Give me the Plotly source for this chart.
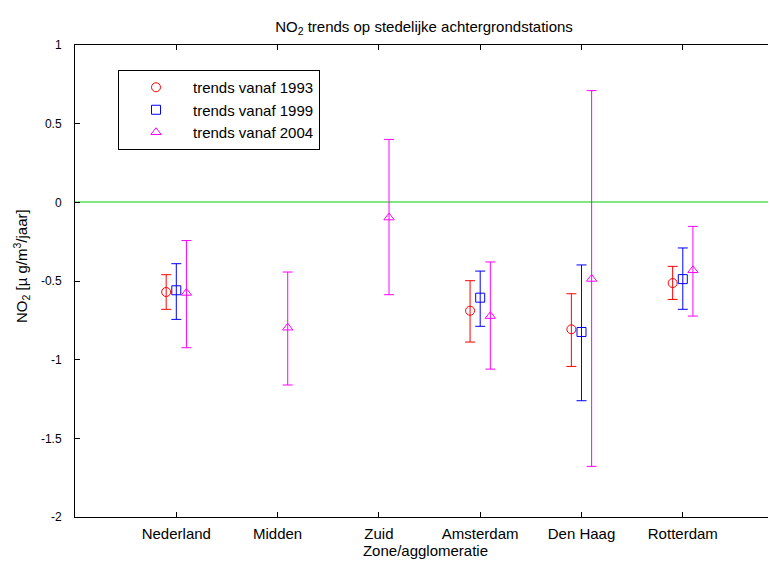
import plotly.graph_objects as go

# ---- data ----
categories = ["Nederland", "Midden", "Zuid", "Amsterdam", "Den Haag", "Rotterdam"]
series_names = ["trends vanaf 1993", "trends vanaf 1999", "trends vanaf 2004"]

trend_1993 = [-0.570, None, None, -0.689, -0.807, -0.513]
upper_1993 = [-0.460, None, None, -0.498, -0.581, -0.407]
lower_1993 = [-0.680, None, None, -0.888, -1.043, -0.617]

trend_1999 = [-0.559, None, None, -0.606, -0.824, -0.488]
upper_1999 = [-0.390, None, None, -0.437, -0.398, -0.290]
lower_1999 = [-0.744, None, None, -0.788, -1.261, -0.680]

trend_2004 = [-0.576, -0.797, -0.097, -0.723, -0.487, -0.432]
upper_2004 = [-0.243, -0.443, 0.400, -0.379, 0.710, -0.153]
lower_2004 = [-0.924, -1.161, -0.587, -1.060, -1.678, -0.723]

y_tick_vals = [1, 0.5, 0, -0.5, -1, -1.5, -2]
y_tick_text = ["1", "0.5", "0", "-0.5", "-1", "-1.5", "-2"]

FONT = "Liberation Sans, Arial, sans-serif"

series = [
    (series_names[0], trend_1993, upper_1993, lower_1993, "#ff0000", "circle-open", -0.1),
    (series_names[1], trend_1999, upper_1999, lower_1999, "#0000ff", "square-open", 0.0),
    (series_names[2], trend_2004, upper_2004, lower_2004, "#ff00ff", "triangle-up-open", 0.1),
]

fig = go.Figure()
for name, vals, up, lo, color, symbol, off in series:
    xs, ys, ep, em = [], [], [], []
    for i, (v, u, l) in enumerate(zip(vals, up, lo)):
        if v is None:
            continue
        xs.append(i + 1 + off)
        ys.append(v)
        ep.append(u - v)
        em.append(v - l)
    fig.add_trace(go.Scatter(
        x=xs, y=ys, mode="markers", name=name, legendgroup=name,
        marker=dict(symbol=symbol, size=9, color=color, line=dict(color=color, width=1)),
        error_y=dict(type="data", symmetric=False, array=ep, arrayminus=em,
                     color=color, thickness=1, width=5),
    ))

# page body has an 8px offset; margins compensate so the axes land where the reference has them
fig.update_layout(
    width=776, height=563,
    margin=dict(l=67, r=8, t=37, b=54),
    paper_bgcolor="white", plot_bgcolor="white",
    font=dict(family=FONT, size=15, color="black"),
    title=dict(text="NO<sub>2</sub> trends op stedelijke achtergrondstations",
               x=(424 - 8) / 776, xanchor="center", y=1 - (27 - 8) / 563, yanchor="middle",
               font=dict(size=15, family=FONT, color="black")),
    showlegend=True,
    legend=dict(x=(118 - 75) / 701, y=(517 - 70) / 472, xanchor="left", yanchor="top",
                bgcolor="white", bordercolor="black", borderwidth=1,
                font=dict(size=15, family=FONT), itemwidth=64, tracegroupgap=0),
    annotations=[dict(
        text="NO<sub>2</sub> [µ g/m<sup>3</sup>/jaar]", textangle=-90,
        xref="paper", yref="paper", x=(21 - 75) / 701, y=(517 - 266) / 472,
        xanchor="center", yanchor="middle", showarrow=False,
        font=dict(size=15, family=FONT, color="black"),
    )],
)

fig.update_xaxes(
    range=[0, 6.92], tickmode="array", tickvals=list(range(1, len(categories) + 1)),
    ticktext=categories, ticks="inside", ticklen=5, tickcolor="black",
    showline=True, linecolor="black", linewidth=1, mirror="ticks",
    showgrid=False, zeroline=False, ticklabelstandoff=3,
    tickfont=dict(size=15, family=FONT),
    title=dict(text="Zone/agglomeratie", standoff=1, font=dict(size=15, family=FONT)),
)
fig.update_yaxes(
    range=[-2, 1], tickmode="array", tickvals=y_tick_vals, ticktext=y_tick_text,
    ticks="inside", ticklen=5, tickcolor="black",
    showline=True, linecolor="black", linewidth=1, mirror=False,
    showgrid=False, zeroline=True, zerolinecolor="#80e680", zerolinewidth=1.5,
    ticklabelstandoff=10, tickfont=dict(size=12, family=FONT),
)

fig.write_html("out.html")
